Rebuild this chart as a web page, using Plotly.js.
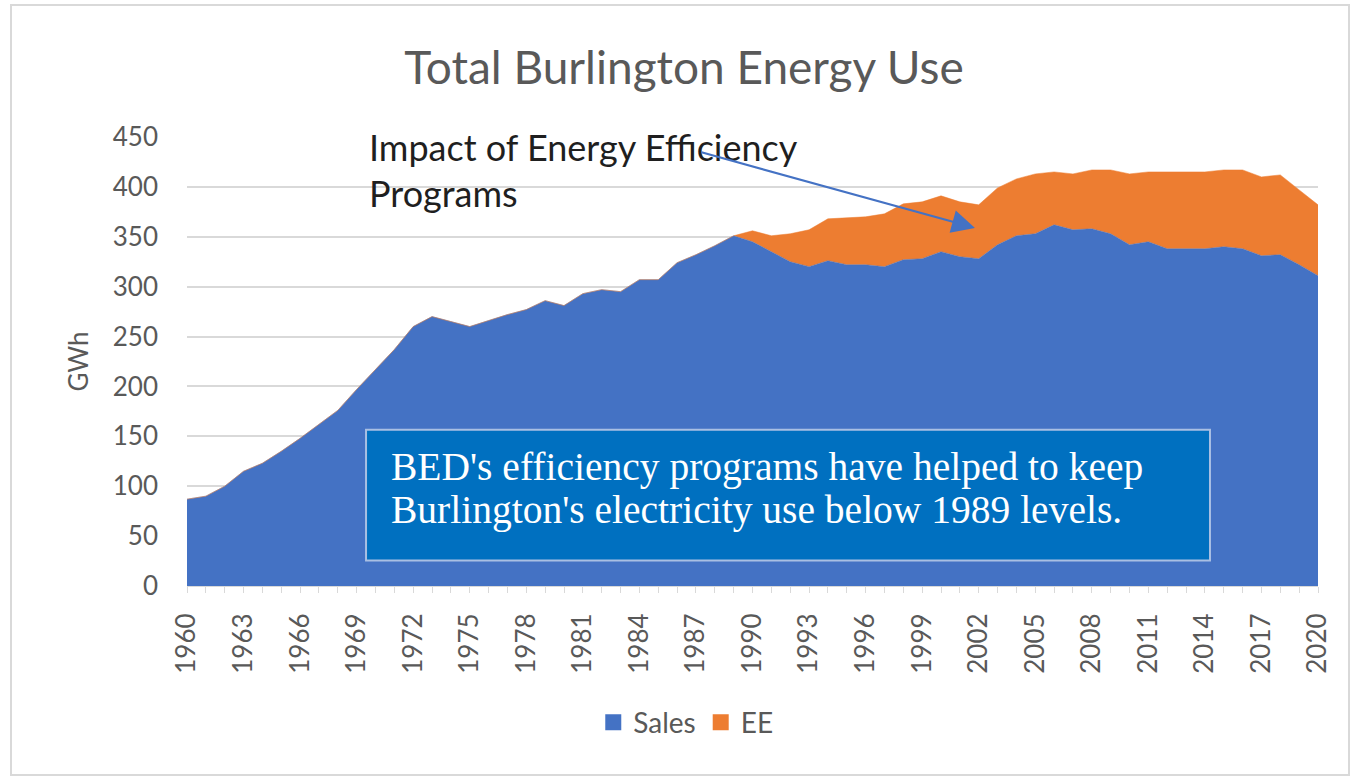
<!DOCTYPE html>
<html>
<head>
<meta charset="utf-8">
<script src="https://cdn.plot.ly/plotly-3.0.1.min.js"></script>
<style>
  html, body { margin: 0; padding: 0; background: #ffffff; }
  #frame { position: absolute; left: 10px; top: 4px; width: 1340px; height: 772px;
           border: 2px solid #d9d9d9; box-sizing: border-box; }
  #chart { position: absolute; left: 0; top: 0; width: 1336px; height: 768px; }
</style>
</head>
<body>
<div id="frame"><div id="chart"></div></div>
<script>
// ---- data (GWh) ----
const years = [1960,1961,1962,1963,1964,1965,1966,1967,1968,1969,
               1970,1971,1972,1973,1974,1975,1976,1977,1978,1979,
               1980,1981,1982,1983,1984,1985,1986,1987,1988,1989,
               1990,1991,1992,1993,1994,1995,1996,1997,1998,1999,
               2000,2001,2002,2003,2004,2005,2006,2007,2008,2009,
               2010,2011,2012,2013,2014,2015,2016,2017,2018,2019,2020];
const sales = [87,90,100,115,123,135,148,162,176,197,
               217,237,260,270,265,260,266,272,277,286,
               281,293,297,295,307,307,324,332,341,351,
               345,335,325,320,326,322,322,320,327,328,
               335,330,328,342,351,353,362,357,358,353,
               342,345,338,338,338,340,338,331,332,322,311];
const ee =    [0,0,0,0,0,0,0,0,0,0,
               0,0,0,0,0,0,0,0,0,0,
               0,0,0,0,0,0,0,0,0,0,
               11,16,28,37,42,47,48,53,56,57,
               56,55,54,57,57,60,53,56,59,64,
               71,70,77,77,77,77,79,79,80,75,71];
const seriesNames = ["Sales", "EE"];
const tickYears = years.filter((y, i) => i % 3 === 0);
const yTicks = [0,50,100,150,200,250,300,350,400,450];
const calloutLines = ["Impact of Energy Efficiency", "Programs"];
const boxLines = ["BED's efficiency programs have helped to keep",
                  "Burlington's electricity use below 1989 levels."];

const BLUE = "#4472C4", ORANGE = "#ED7D31", GREY = "#595959";
const FONT = "Lato, 'Open Sans', sans-serif";
const SERIF = "'Liberation Serif', 'DejaVu Serif', serif";

const traces = [
  { x: years, y: sales, name: seriesNames[0], type: "scatter", mode: "lines",
    stackgroup: "one", line: { width: 0.5, color: BLUE }, fillcolor: BLUE,
    showlegend: false, hoverinfo: "x+y" },
  { x: years, y: ee, name: seriesNames[1], type: "scatter", mode: "lines",
    stackgroup: "one", line: { width: 0.5, color: ORANGE }, fillcolor: ORANGE,
    showlegend: false, hoverinfo: "x+y" },
  // legend swatches (square keys like the original)
  { x: [null], y: [null], name: seriesNames[0], type: "scatter", mode: "markers",
    marker: { symbol: "square", size: 16, color: BLUE }, showlegend: true },
  { x: [null], y: [null], name: seriesNames[1], type: "scatter", mode: "markers",
    marker: { symbol: "square", size: 16, color: ORANGE }, showlegend: true }
];

const layout = {
  width: 1336, height: 768,
  margin: { l: 175, r: 30, t: 131, b: 188 },
  paper_bgcolor: "#ffffff", plot_bgcolor: "#ffffff",
  font: { family: FONT, color: GREY },
  title: { text: "Total Burlington Energy Use", font: { family: FONT, size: 46, color: GREY },
           xref: "container", x: 0.503, xanchor: "center",
           yref: "container", y: 0.919, yanchor: "middle" },
  xaxis: {
    range: [1960, 2020], tickmode: "array", tickvals: tickYears,
    ticktext: tickYears.map(String), tickangle: -90,
    tickfont: { family: FONT, size: 26, color: GREY },
    ticks: "outside", ticklen: 6, tickcolor: "#d9d9d9", ticklabelstandoff: 10,
    minor: { dtick: 1, tick0: 1960, ticks: "outside", ticklen: 6, tickcolor: "#d9d9d9" },
    showgrid: false, zeroline: false, showline: true, linecolor: "#d9d9d9", linewidth: 1,
    fixedrange: true
  },
  yaxis: {
    range: [0, 450], tickmode: "array", tickvals: yTicks,
    tickfont: { family: FONT, size: 26, color: GREY },
    ticklabelstandoff: 28,
    showgrid: true, gridcolor: "#d9d9d9", gridwidth: 2, zeroline: false, showline: false,
    title: { text: "GWh", font: { family: FONT, size: 26, color: GREY }, standoff: 16 },
    fixedrange: true
  },
  showlegend: true,
  legend: { orientation: "h", traceorder: "normal", x: 0.441, xanchor: "center",
            y: -0.304, yanchor: "middle",
            font: { family: FONT, size: 28, color: GREY }, itemwidth: 30,
            bgcolor: "rgba(0,0,0,0)" },
  shapes: [
    { type: "rect", xref: "paper", yref: "paper", x0: 0.1583, x1: 0.9045, y0: 0.0567, y1: 0.3482,
      fillcolor: "#0070C0", line: { color: "#a9bfe3", width: 2 }, layer: "above" }
  ],
  annotations: [
    { xref: "paper", yref: "paper", x: 0.1592, y: 0.9778, xanchor: "left", yanchor: "middle",
      text: calloutLines[0], showarrow: false,
      font: { family: FONT, size: 36, color: "#1f1f1f" } },
    { xref: "paper", yref: "paper", x: 0.1592, y: 0.8754, xanchor: "left", yanchor: "middle",
      text: calloutLines[1], showarrow: false,
      font: { family: FONT, size: 36, color: "#1f1f1f" } },
    { xref: "paper", yref: "paper", x: 0.6967, y: 0.7976, text: "", showarrow: true,
      axref: "pixel", ayref: "pixel", ax: -275, ay: -76,
      arrowhead: 2, arrowsize: 2.1, arrowwidth: 2.2, arrowcolor: BLUE },
    { xref: "paper", yref: "paper", x: 0.1786, y: 0.264, xanchor: "left", yanchor: "middle",
      text: boxLines[0], showarrow: false,
      font: { family: SERIF, size: 39.5, color: "#ffffff" } },
    { xref: "paper", yref: "paper", x: 0.1786, y: 0.170, xanchor: "left", yanchor: "middle",
      text: boxLines[1], showarrow: false,
      font: { family: SERIF, size: 39.5, color: "#ffffff" } }
  ]
};

Plotly.newPlot("chart", traces, layout, { displayModeBar: false });
</script>
</body>
</html>
